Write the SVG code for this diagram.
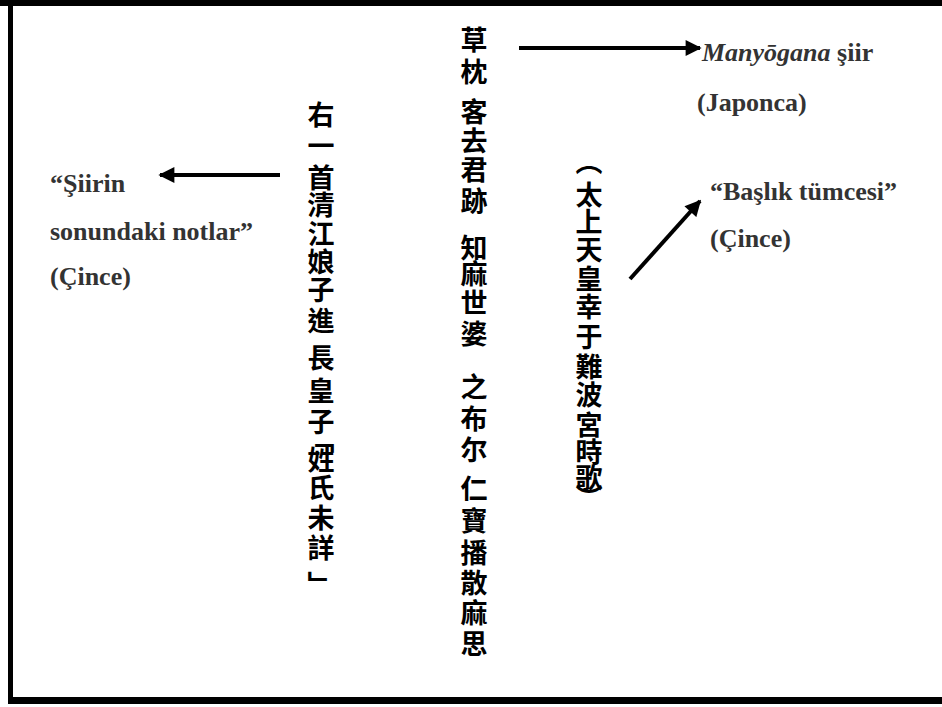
<svg xmlns="http://www.w3.org/2000/svg" width="942" height="707" viewBox="0 0 942 707">
<style>
.cjk{font-family:"Noto Sans CJK TC","Noto Sans CJK JP",sans-serif;font-size:27px;font-weight:700;fill:#000;writing-mode:vertical-rl}
.lbl{font-family:"Liberation Serif","Times New Roman",serif;font-size:26px;font-weight:700;fill:#333}
.arr{stroke:#000;stroke-width:4;fill:none}
</style>
<defs>
<marker id="ah" viewBox="0 0 10 10" refX="9" refY="5" markerWidth="4.2" markerHeight="4" orient="auto" markerUnits="strokeWidth">
<path d="M0,0 L10,5 L0,10 Z" fill="#000"/>
</marker>
</defs>
<rect width="942" height="707" fill="#fff"/>
<g id="frame" fill="#000">
<rect x="0" y="0" width="942" height="6"/>
<rect x="8" y="0" width="5" height="704"/>
<rect x="8" y="697" width="934" height="7"/>
</g>
<g id="main-poem">
<text class="cjk" x="474" y="26.5 58.5 86 98.5 127.5 156.5 187.5 215 234.5 260.5 289.5 320.5 348 373.5 405.5 436.5 464 475.5 507.5 539.5 569.5 599.5 630.5">草枕 客去君跡 知麻世婆 之布尔 仁寶播散麻思</text>
</g>
<g id="notes-column">
<text class="cjk" x="321" y="101.5 132.5 164.5 191.5 220.5 248.5 276.5 307.5 344.5 377.5 408.5 426 446.5 474.5 504.5 534.5 571">右一首清江娘子進長皇子「姓氏未詳」</text>
</g>
<g id="title-column">
<text class="cjk" x="589" y="148 181.5 208.5 236.5 265.5 293.5 323.5 353.5 381.5 411.5 438.5 464.5 484">（太上天皇幸于難波宮時歌）</text>
</g>
<g id="label-manyogana" class="lbl">
<text x="702" y="61"><tspan font-style="italic">Manyōgana</tspan> şiir</text>
<text x="697" y="111">(Japonca)</text>
</g>
<g id="label-title" class="lbl">
<text x="710" y="200">“Başlık tümcesi”</text>
<text x="710" y="247">(Çince)</text>
</g>
<g id="label-notes" class="lbl">
<text x="50" y="192">“Şiirin</text>
<text x="50" y="240">sonundaki notlar”</text>
<text x="50" y="285">(Çince)</text>
</g>
<g id="connectors">
<line class="arr" x1="519" y1="48" x2="700" y2="48" marker-end="url(#ah)"/>
<line class="arr" x1="280" y1="175" x2="160" y2="175" marker-end="url(#ah)"/>
<line class="arr" x1="630" y1="279" x2="700" y2="201" marker-end="url(#ah)"/>
</g>
</svg>
